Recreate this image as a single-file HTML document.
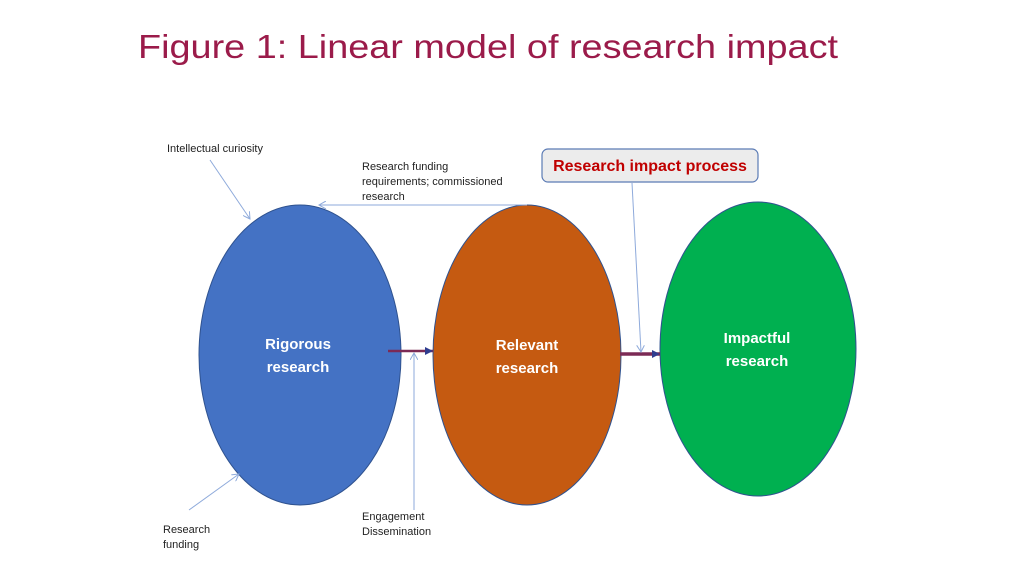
<!DOCTYPE html>
<html><head><style>
body{margin:0;width:1022px;height:575px;background:#fff;overflow:hidden;font-family:"Liberation Sans",sans-serif;}
</style></head><body>
<svg width="1022" height="575" xmlns="http://www.w3.org/2000/svg" font-family="Liberation Sans, sans-serif">
<defs>
<marker id="a" markerWidth="8" markerHeight="8" refX="7" refY="4" orient="auto" markerUnits="userSpaceOnUse"><path d="M0,0 L7,4 L0,8" fill="none" stroke="#8eaadb" stroke-width="1"/></marker>
<marker id="b" markerWidth="10" markerHeight="10" refX="8" refY="5" orient="auto" markerUnits="userSpaceOnUse"><path d="M0,1 L8,5 L0,9z" fill="#2f3d8f"/></marker>
</defs>
<text x="138" y="58" font-size="33" fill="#9b1b4a" textLength="700" lengthAdjust="spacingAndGlyphs">Figure 1: Linear model of research impact</text>
<ellipse cx="300" cy="355" rx="101" ry="150" fill="#4472c4" stroke="#2f528f"/>
<ellipse cx="527" cy="355" rx="94" ry="150" fill="#c55a11" stroke="#2f528f"/>
<ellipse cx="758" cy="349" rx="98" ry="147" fill="#00b050" stroke="#2f528f"/>
<g fill="#fff" font-weight="bold" font-size="15" text-anchor="middle">
<text x="298" y="349">Rigorous</text><text x="298" y="372">research</text>
<text x="527" y="350">Relevant</text><text x="527" y="373">research</text>
<text x="757" y="343">Impactful</text><text x="757" y="366">research</text>
</g>
<line x1="388" y1="351" x2="433" y2="351" stroke="#7b2a55" stroke-width="2.5" marker-end="url(#b)"/>
<line x1="620" y1="354" x2="660" y2="354" stroke="#7b2a55" stroke-width="3.5" marker-end="url(#b)"/>
<g stroke="#8eaadb" stroke-width="1" fill="none">
<line x1="210" y1="160" x2="250" y2="219" marker-end="url(#a)"/>
<line x1="527" y1="205" x2="319" y2="205" marker-end="url(#a)"/>
<line x1="632" y1="183" x2="641" y2="352" marker-end="url(#a)"/>
<line x1="414" y1="510" x2="414" y2="353" marker-end="url(#a)"/>
<line x1="189" y1="510" x2="239" y2="474" marker-end="url(#a)"/>
</g>
<g font-size="11" fill="#222">
<text x="167" y="152">Intellectual curiosity</text>
<text x="362" y="170">Research funding</text>
<text x="362" y="185">requirements; commissioned</text>
<text x="362" y="200">research</text>
<text x="362" y="520">Engagement</text>
<text x="362" y="535">Dissemination</text>
<text x="163" y="533">Research</text>
<text x="163" y="548">funding</text>
</g>
<rect x="542" y="149" width="216" height="33" rx="6" fill="#ececec" stroke="#5b7bb5" stroke-width="1.2"/>
<text x="650" y="171" font-size="16" font-weight="bold" fill="#c00000" text-anchor="middle">Research impact process</text>
</svg>
</body></html>
